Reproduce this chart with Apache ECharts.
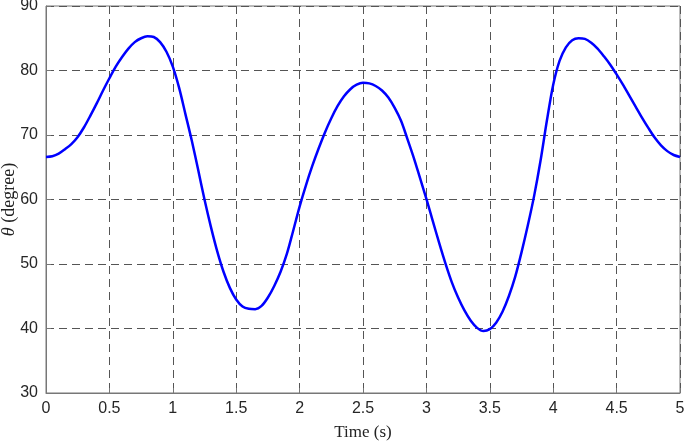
<!doctype html>
<html>
<head>
<meta charset="utf-8">
<style>
  html, body { margin: 0; padding: 0; background: #fff; }
  #chart-panel { width: 685px; height: 443px; }
</style>
<script src="https://cdn.jsdelivr.net/npm/echarts@6/dist/echarts.min.js"></script>
</head>
<body>
<div id="chart-panel"></div>
<script type="text/javascript">
// time samples (s) and joint angle (degree)
var timeS = [0, 0.05, 0.1, 0.15, 0.2, 0.25, 0.3, 0.35, 0.4, 0.45,
             0.5, 0.55, 0.6, 0.65, 0.7, 0.75, 0.8, 0.85, 0.9, 0.95,
             1.0, 1.05, 1.1, 1.15, 1.2, 1.25, 1.3, 1.35, 1.4, 1.45,
             1.5, 1.55, 1.6, 1.65, 1.7, 1.75, 1.8, 1.85, 1.9, 1.95,
             2.0, 2.05, 2.1, 2.15, 2.2, 2.25, 2.3, 2.35, 2.4, 2.45,
             2.5, 2.55, 2.6, 2.65, 2.7, 2.75, 2.8, 2.85, 2.9, 2.95,
             3.0, 3.05, 3.1, 3.15, 3.2, 3.25, 3.3, 3.35, 3.4, 3.45,
             3.5, 3.55, 3.6, 3.65, 3.7, 3.75, 3.8, 3.85, 3.9, 3.95,
             4.0, 4.05, 4.1, 4.15, 4.2, 4.25, 4.3, 4.35, 4.4, 4.45,
             4.5, 4.55, 4.6, 4.65, 4.7, 4.75, 4.8, 4.85, 4.9, 4.95, 5.0];
var theta = [66.6, 66.7, 67.1, 67.8, 68.6, 69.7, 71.2, 73.0, 74.9, 76.9,
             78.8, 80.6, 82.1, 83.4, 84.4, 85.0, 85.3, 85.2, 84.4, 82.9,
             80.6, 77.3, 73.2, 69.1, 64.6, 60.0, 55.8, 52.0, 48.8, 46.3,
             44.5, 43.4, 43.05, 43.0, 43.5, 44.8, 46.6, 48.8, 51.6, 55.2,
             58.9, 62.2, 65.2, 67.9, 70.4, 72.6, 74.5, 76.0, 77.1, 77.8,
             78.1, 78.0, 77.6, 76.9, 75.8, 74.2, 72.2, 69.4, 66.5, 63.3,
             60.1, 56.7, 53.3, 50.1, 47.2, 44.8, 42.8, 41.2, 40.1, 39.6,
             39.9, 40.9, 42.6, 45.0, 48.0, 51.8, 56.0, 60.6, 66.0, 72.2,
             77.8, 81.5, 83.6, 84.7, 85.0, 84.9, 84.3, 83.4, 82.2, 80.9,
             79.4, 77.8, 76.1, 74.4, 72.7, 71.1, 69.6, 68.4, 67.5, 66.9, 66.6];
var xTicks = {min: 0, max: 5, step: 0.5};
var yTicks = {min: 30, max: 90, step: 10};

var pts = [];
for (var i = 0; i < timeS.length; i++) {
    pts.push([timeS[i], theta[i]]);
}

var myChart = echarts.init(document.getElementById('chart-panel'));
var dashed = {
    show: true,
    lineStyle: { color: '#555', width: 1, type: [8, 5] }
};
var option = {
    animation: false,
    grid: {
        left: 46, right: 5, top: 6, bottom: 50,
        containLabel: false,
        outerBoundsMode: 'none',
        show: true, borderColor: '#777', borderWidth: 1
    },
    xAxis: {
        type: 'value',
        min: xTicks.min, max: xTicks.max, interval: xTicks.step,
        name: 'Time (s)',
        nameLocation: 'middle',
        nameGap: 31,
        nameMoveOverlap: false,
        nameTextStyle: { fontFamily: 'Liberation Serif', fontSize: 17, color: '#222' },
        axisLine: { show: true, lineStyle: { color: '#777' } },
        axisTick: { show: true, inside: true, length: 5, lineStyle: { color: '#777' } },
        axisLabel: { fontFamily: 'Liberation Sans', fontSize: 16, color: '#262626', margin: 8 },
        splitLine: dashed
    },
    yAxis: {
        type: 'value',
        min: yTicks.min, max: yTicks.max, interval: yTicks.step,
        name: '{i|θ}{n| (degree)}',
        nameLocation: 'middle',
        nameGap: 28,
        nameMoveOverlap: false,
        nameTextStyle: {
            fontFamily: 'Liberation Serif', fontSize: 18, color: '#222',
            rich: {
                i: { fontFamily: 'Liberation Serif', fontStyle: 'italic', fontSize: 18, color: '#222' },
                n: { fontFamily: 'Liberation Serif', fontSize: 18, color: '#222' }
            }
        },
        axisLine: { show: true, lineStyle: { color: '#777' } },
        axisTick: { show: true, inside: true, length: 5, lineStyle: { color: '#777' } },
        axisLabel: { fontFamily: 'Liberation Sans', fontSize: 16, color: '#262626', margin: 8 },
        splitLine: dashed
    },
    series: [{
        type: 'line',
        data: pts,
        smooth: 0.3,
        showSymbol: false,
        lineStyle: { color: '#0000ff', width: 2.5 }
    }]
};
myChart.setOption(option);
</script>
</body>
</html>
